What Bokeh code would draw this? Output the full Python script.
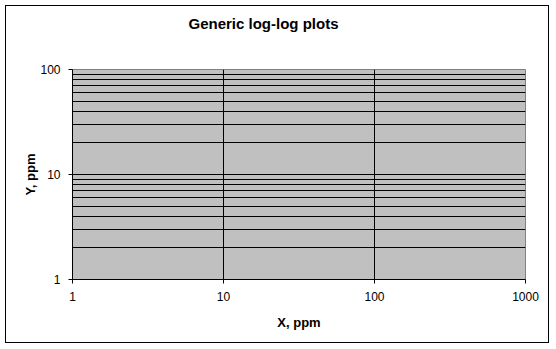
from bokeh.plotting import figure
from bokeh.models import FixedTicker, CustomJSTickFormatter, Range1d, Title
from bokeh.embed import file_html
from bokeh.resources import INLINE

# ---- data ----
title_text = "Generic log-log plots"
x_label = "X, ppm"
y_label = "Y, ppm"
x_range_vals = [1, 1000]
y_range_vals = [1, 100]
x_ticks = [1, 10, 100, 1000]
y_ticks = [1, 10, 100]
y_minor = [2, 3, 4, 5, 6, 7, 8, 9, 20, 30, 40, 50, 60, 70, 80, 90]

FONT = "Liberation Sans"

p = figure(
    width=544, height=338,
    x_axis_type="log", y_axis_type="log",
    x_range=Range1d(*x_range_vals), y_range=Range1d(*y_range_vals),
    output_backend="svg", toolbar_location=None,
    min_border_left=66, min_border_right=25,
    min_border_top=63, min_border_bottom=65,
)
p.margin = (5, 0, 0, 5)
p.styles = {"border": "1px solid black"}

p.background_fill_color = "#C0C0C0"
p.border_fill_color = "white"
p.outline_line_color = "#808080"
p.outline_line_width = 1

# title + spacer between title and frame
p.title = Title(text=title_text, align="left", offset=116, standoff=0,
                text_font=FONT, text_font_size="15px", text_font_style="bold",
                text_color="black")
p.add_layout(Title(text=" ", text_font_size="32px", standoff=0), "above")

fmt = CustomJSTickFormatter(code="return String(Math.round(tick));")

# x axis
p.xaxis.ticker = FixedTicker(ticks=x_ticks)
p.xaxis.formatter = fmt
p.xgrid.ticker = FixedTicker(ticks=x_ticks)
p.xgrid.grid_line_color = "black"
p.xgrid.grid_line_width = 1

# y axis
p.yaxis.ticker = FixedTicker(ticks=y_ticks, minor_ticks=y_minor)
p.yaxis.formatter = fmt
p.ygrid.ticker = FixedTicker(ticks=y_ticks, minor_ticks=y_minor)
p.ygrid.grid_line_color = "black"
p.ygrid.minor_grid_line_color = "black"
p.ygrid.grid_line_width = 1

p.xaxis.axis_label = x_label
p.yaxis.axis_label = y_label
p.xaxis.axis_label_standoff = 11
p.yaxis.axis_label_standoff = -1

for ax in (p.xaxis[0], p.yaxis[0]):
    ax.axis_line_color = "black"
    ax.major_tick_line_color = "black"
    ax.major_tick_out = 4
    ax.major_tick_in = 0
    ax.minor_tick_line_color = None
    ax.major_label_text_font = FONT
    ax.major_label_text_font_size = "12px"
    ax.major_label_text_color = "black"
    ax.major_label_standoff = 8
    ax.axis_label_text_font = FONT
    ax.axis_label_text_font_size = "13px"
    ax.axis_label_text_font_style = "bold"
    ax.axis_label_text_color = "black"

open("out.html", "w").write(file_html(p, INLINE))
